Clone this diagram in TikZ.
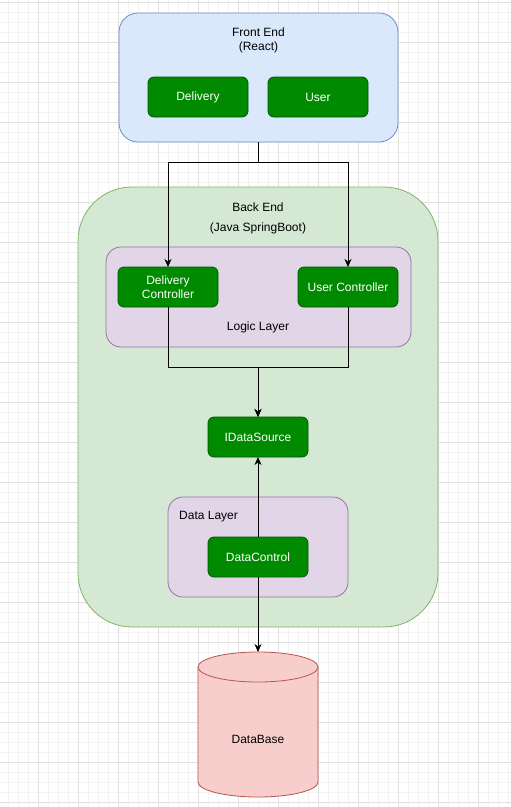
\documentclass[tikz,border=0pt]{standalone}
\usepackage{fontspec}
\setmainfont{Liberation Sans}
\usetikzlibrary{arrows.meta}
\definecolor{feFill}{HTML}{DAE8FC}\definecolor{feLine}{HTML}{6C8EBF}
\definecolor{beFill}{HTML}{D5E8D4}\definecolor{beLine}{HTML}{82B366}
\definecolor{lyFill}{HTML}{E1D5E7}\definecolor{lyLine}{HTML}{9673A6}
\definecolor{gbFill}{HTML}{008A00}\definecolor{gbLine}{HTML}{005700}
\definecolor{dbFill}{HTML}{F8CECC}\definecolor{dbLine}{HTML}{B85450}
\definecolor{gMinor}{HTML}{F3F3F3}\definecolor{gMajor}{HTML}{E0E0E0}
\tikzset{
  txt/.style={font=\fontsize{12}{14}\selectfont, text=black, inner sep=0pt, align=center},
  container/.style={rounded corners=#1, line width=0.8pt, outer sep=0pt, inner sep=0pt},
  gbox/.style={draw=gbLine, fill=gbFill, rounded corners=6pt, line width=0.8pt,
    minimum width=100pt, minimum height=40pt, inner sep=0pt, outer sep=0pt,
    text=white, align=center, font=\fontsize{12}{14}\selectfont},
  arr/.style={draw=black, line width=0.9pt, -{Stealth[length=8pt,width=7pt,inset=2.5pt]}},
}
\begin{document}
\begin{tikzpicture}[x=1pt,y=-1pt]
\useasboundingbox (0,0) rectangle (511,807);
\fill[white] (0,0) rectangle (511,807);
% grid
\foreach \x in {8,18,...,508} \draw[gMinor, line width=0.8pt] (\x,0) -- (\x,807);
\foreach \y in {2,12,...,802} \draw[gMinor, line width=0.8pt] (0,\y) -- (511,\y);
\foreach \x in {38,78,...,478} \draw[gMajor, line width=0.8pt] (\x,0) -- (\x,807);
\foreach \y in {2,42,...,802} \draw[gMajor, line width=0.8pt] (0,\y) -- (511,\y);

% Front end
\node[container=19pt, draw=feLine, fill=feFill, minimum width=279pt, minimum height=129pt] (fe) at (258.5,77.5) {};
\node[txt] (fet) at (258.5,40.5) {Front End\\(React)};
\node[gbox] (del) at (198,97) {Delivery};
\node[gbox] (usr) at (318,97) {User};

% Back end
\node[container=54pt, draw=beLine, fill=beFill, minimum width=360pt, minimum height=440pt] (be) at (258,407) {};
\node[txt] (bet1) at (258,207) {Back End};
\node[txt] (bet2) at (258,228) {(Java SpringBoot)};

% Logic layer
\node[container=15pt, draw=lyLine, fill=lyFill, minimum width=305pt, minimum height=100pt] (ll) at (258.5,297) {};
\node[txt] (llt) at (258,327) {Logic Layer};
\node[gbox] (dc) at (168,287) {Delivery\\Controller};
\node[gbox] (uc) at (348,287) {User Controller};

\node[gbox] (ids) at (258,437) {IDataSource};

% Data layer
\node[container=15pt, draw=lyLine, fill=lyFill, minimum width=180pt, minimum height=100pt] (dl) at (258,547) {};
\node[txt, anchor=west] (dlt) at (179,517) {Data Layer};
\node[gbox] (dctl) at (258,557) {DataControl};

% Database cylinder
\node[minimum width=120pt, minimum height=145pt, inner sep=0pt, outer sep=0pt] (db) at (258,724.5) {};
\filldraw[fill=dbFill, draw=dbLine, line width=0.8pt]
  (198,667) -- (198,782)
  .. controls (198,790.3) and (224.9,797) .. (258,797)
  .. controls (291.1,797) and (318,790.3) .. (318,782)
  -- (318,667)
  .. controls (318,658.7) and (291.1,652) .. (258,652)
  .. controls (224.9,652) and (198,658.7) .. (198,667) -- cycle;
\draw[dbLine, line width=0.8pt] (198,667) .. controls (198,675.3) and (224.9,682) .. (258,682)
  .. controls (291.1,682) and (318,675.3) .. (318,667);
\node[txt] (dbt) at (258,739) {DataBase};

% connectors
\draw[arr] (fe.south) -- ++(0,20) -| (dc.north);
\draw[arr] (fe.south) -- ++(0,20) -| (uc.north);
\draw[arr] (dc.south) -- ++(0,60) -| (ids.north);
\draw[arr] (uc.south) -- ++(0,60) -| (ids.north);
\draw[arr] (dctl.north) -- (ids.south);
\draw[arr] (dctl.south) -- (db.north);
\end{tikzpicture}
\end{document}
